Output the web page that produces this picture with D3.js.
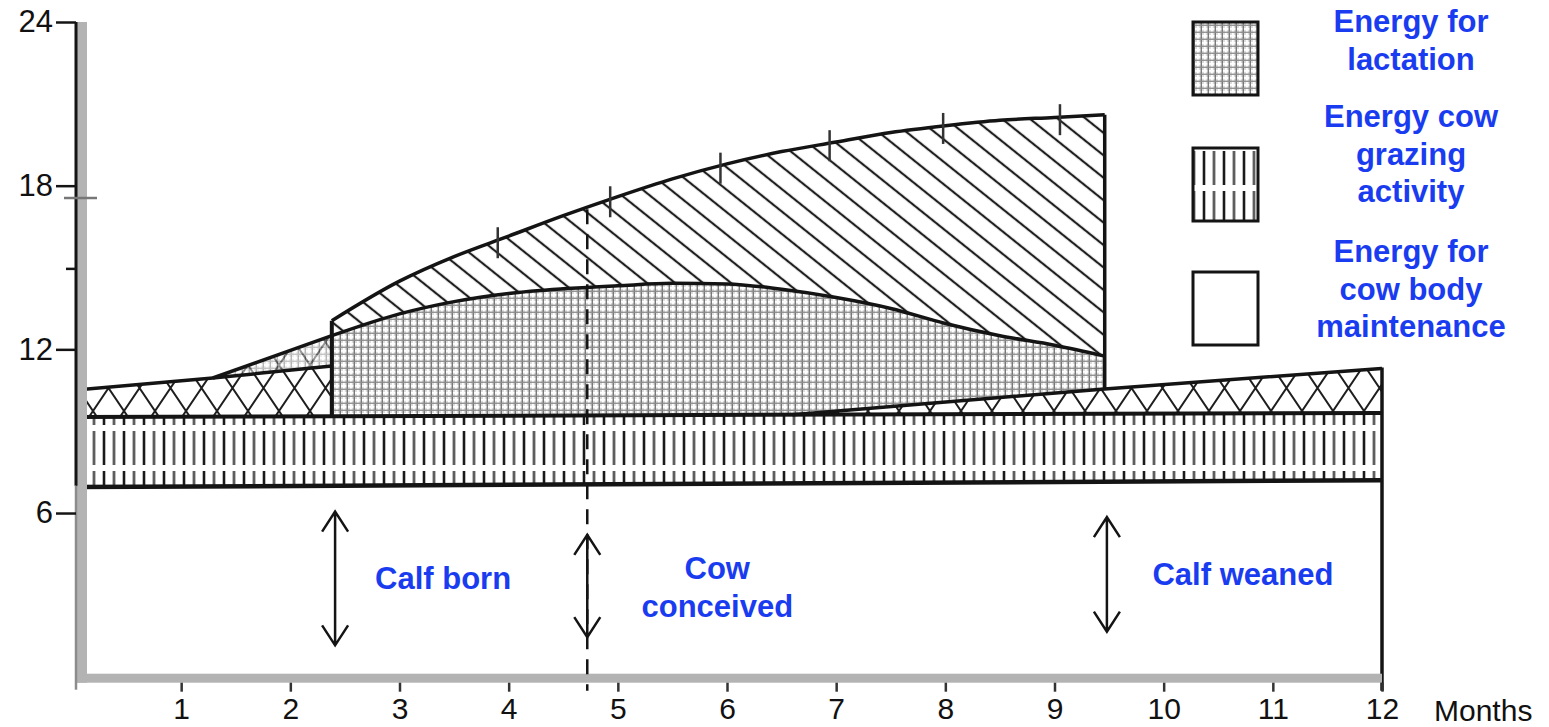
<!DOCTYPE html>
<html>
<head>
<meta charset="utf-8">
<script src="https://cdn.jsdelivr.net/npm/d3@7"></script>
<style>
  body { margin: 0; background: #fff; }
  svg { display: block; }
</style>
</head>
<body>
<svg id="chart" width="1549" height="727"></svg>
<script>
// values (x = months, y = energy units)
const maintMonths = [0, 12];
const maintTop = [6.95, 7.2];
const grazeMonths = [0, 12];
const grazeTop = [9.52, 9.67];
const pregLeftMonths = [0, 1.29, 2.38];
const pregLeftTop = [10.5, 10.95, 11.39];
const wedgeMonths = [1.29, 2.38];
const wedgeTop = [10.95, 12.5];
const lactMonths = [2.38, 3, 3.5, 4, 4.5, 5, 5.5, 6, 6.5, 7, 7.5, 8, 8.5, 9, 9.46];
const lactTop = [12.5, 13.3, 13.75, 14.05, 14.22, 14.33, 14.42, 14.4, 14.2, 13.9, 13.5, 12.95, 12.5, 12.15, 11.75];
const totalTop = [13.05, 14.5, 15.4, 16.15, 16.9, 17.6, 18.25, 18.8, 19.25, 19.6, 19.95, 20.2, 20.4, 20.5, 20.6];
const pregRightMonths = [6.6, 9.46, 12];
const pregRightTop = [9.6, 10.55, 11.3];
const curveTickMonths = [3.9, 4.93, 5.94, 6.94, 7.98, 9.05];

const xTicks = [1, 2, 3, 4, 5, 6, 7, 8, 9, 10, 11, 12];
const yTicks = [6, 12, 18, 24];
const yMinorTicks = [17.55, 14.95];

const eventNames = [["Calf born"], ["Cow", "conceived"], ["Calf weaned"]];
const eventMonths = [2.41, 4.72, 9.48];
const arrowLow = [1.15, 1.45, 1.65];
const arrowHigh = [6.05, 5.2, 5.85];

const legendNames = [["Energy for", "lactation"], ["Energy cow", "grazing", "activity"], ["Energy for", "cow body", "maintenance"]];
const legendFills = ["url(#pLact)", "url(#pGraze)", "#fff"];

// layout
const blue = "#1a3cf0";
const ink = "#141414";
const grey = "#b3b3b3";

const svg = d3.select("#chart");
const x = d3.scaleLinear().domain([0, 12]).range([72, 1382]);
const y = d3.scaleLinear().domain([0, 24]).range([676.7, 22]);
const x0 = x(0) + 4;

// patterns
const defs = svg.append("defs");

defs.append("clipPath").attr("id", "plotClip")
    .append("rect").attr("x", x0).attr("y", 0).attr("width", x(12) + 5 - x0).attr("height", y(0) + 20);

const pL = defs.append("pattern").attr("id", "pLact")
    .attr("patternUnits", "userSpaceOnUse").attr("width", 7).attr("height", 7);
pL.append("rect").attr("width", 7).attr("height", 7).attr("fill", "#dcdcdc");
pL.append("rect").attr("width", 7).attr("height", 1.8).attr("fill", "#fff");
pL.append("rect").attr("width", 1.8).attr("height", 7).attr("fill", "#fff");
pL.append("rect").attr("x", 3.6).attr("y", 0).attr("width", 1.3).attr("height", 7).attr("fill", "#6c6c6c");
pL.append("rect").attr("x", 0).attr("y", 3.6).attr("width", 7).attr("height", 1.3).attr("fill", "#8a8a8a");

const pG = defs.append("pattern").attr("id", "pGraze")
    .attr("patternUnits", "userSpaceOnUse").attr("width", 20).attr("height", 40)
    .attr("y", y(grazeTop[0]));
pG.append("rect").attr("width", 20).attr("height", 40).attr("fill", "#fff");
pG.append("path").attr("d", "M4,0V8M4,14V40").attr("stroke", "#1a1a1a").attr("stroke-width", 2.6);
pG.append("path").attr("d", "M14,0V8M14,14V40").attr("stroke", "#5e5e5e").attr("stroke-width", 2.8);

const pC = defs.append("pattern").attr("id", "pCross")
    .attr("patternUnits", "userSpaceOnUse").attr("width", 31).attr("height", 46)
    .attr("y", 365);
pC.append("rect").attr("width", 31).attr("height", 46).attr("fill", "#fff");
pC.append("path").attr("d", "M0,0L31,46M31,0L0,46").attr("stroke", "#1e1e1e").attr("stroke-width", 2);

const pD = defs.append("pattern").attr("id", "pDiag")
    .attr("patternUnits", "userSpaceOnUse").attr("width", 20).attr("height", 17.5)
    .attr("patternTransform", "rotate(38.7)");
pD.append("rect").attr("width", 20).attr("height", 17.5).attr("fill", "#fff");
pD.append("line").attr("x1", 0).attr("x2", 20).attr("y1", 8.75).attr("y2", 8.75)
    .attr("stroke", "#1e1e1e").attr("stroke-width", 2.2);

// helpers
const pts = (ms, vs) => ms.map((m, i) => [m, vs[i]]);
const lin = d3.line().x(d => x(d[0])).y(d => y(d[1]));
const smooth = d3.line().x(d => x(d[0])).y(d => y(d[1])).curve(d3.curveMonotoneX);
const areaFrom0 = (c) => d3.area().x(d => x(d[0])).y0(y(0)).y1(d => y(d[1])).curve(c);

const lactPts = pts(lactMonths, lactTop);
const totalPts = pts(lactMonths, totalTop);

const plot = svg.append("g").attr("clip-path", "url(#plotClip)");

// 1. top hatched band between lactation and total curves
const diag = d3.area()
    .x(d => x(d[0]))
    .y0((d, i) => y(lactTop[i]))
    .y1(d => y(d[1]))
    .curve(d3.curveMonotoneX);
plot.append("path").attr("d", diag(totalPts)).attr("fill", "url(#pDiag)");

// 2. lactation
plot.append("path").attr("d", areaFrom0(d3.curveMonotoneX)(lactPts)).attr("fill", "url(#pLact)");

// 3. edge at weaning
const last = lactMonths.length - 1;
plot.append("line")
    .attr("x1", x(lactMonths[last])).attr("x2", x(lactMonths[last]))
    .attr("y1", y(0)).attr("y2", y(totalTop[last]))
    .attr("stroke", ink).attr("stroke-width", 3.5);

// 4-6. cross hatched bands
plot.append("path").attr("d", areaFrom0(d3.curveMonotoneX)(pts(pregRightMonths, pregRightTop))).attr("fill", "url(#pCross)");
plot.append("path").attr("d", areaFrom0(d3.curveLinear)(pts(wedgeMonths, wedgeTop))).attr("fill", "url(#pCross)");
plot.append("path").attr("d", areaFrom0(d3.curveLinear)(pts(wedgeMonths, wedgeTop))).attr("fill", "url(#pLact)").attr("opacity", 0.55);
plot.append("path").attr("d", areaFrom0(d3.curveLinear)(pts(pregLeftMonths, pregLeftTop))).attr("fill", "url(#pCross)");

// 7. edge at calving
plot.append("line")
    .attr("x1", x(lactMonths[0])).attr("x2", x(lactMonths[0]))
    .attr("y1", y(0)).attr("y2", y(totalTop[0]))
    .attr("stroke", ink).attr("stroke-width", 4);

// 8. grazing and maintenance
plot.append("path").attr("d", areaFrom0(d3.curveLinear)(pts(grazeMonths, grazeTop))).attr("fill", "url(#pGraze)");
plot.append("path").attr("d", areaFrom0(d3.curveLinear)(pts(maintMonths, maintTop))).attr("fill", "#fff");

// 9. outlines
const outline = (d, w) => plot.append("path").attr("d", d).attr("fill", "none")
    .attr("stroke", ink).attr("stroke-width", w).attr("stroke-linejoin", "round");
outline(lin(pts(grazeMonths, grazeTop)), 4);
outline(lin(pts(maintMonths, maintTop)), 4.5);
outline(lin(pts(pregLeftMonths, pregLeftTop)), 3.5);
outline(lin(pts(wedgeMonths, wedgeTop)), 3.5);
outline(smooth(lactPts), 3.5);
outline(smooth(totalPts), 3.5);
outline(smooth(pts(pregRightMonths, pregRightTop)), 3.5);
svg.append("line")
    .attr("x1", x(12)).attr("x2", x(12))
    .attr("y1", y(0) + 14).attr("y2", y(pregRightTop[pregRightTop.length - 1]) - 1)
    .attr("stroke", ink).attr("stroke-width", 3.5);

// small marks across the total curve
const totalAt = d3.scaleLinear().domain(lactMonths).range(totalTop);
svg.append("g").selectAll("line").data(curveTickMonths).join("line")
    .attr("x1", d => x(d)).attr("x2", d => x(d))
    .attr("y1", d => y(totalAt(d)) - 13).attr("y2", d => y(totalAt(d)) + 18)
    .attr("stroke", "#333").attr("stroke-width", 2.5);

// 10. grey frame bands and axes
svg.append("rect").attr("x", x0 + 1).attr("y", y(24)).attr("width", 10).attr("height", y(0) + 6 - y(24)).attr("fill", grey);
svg.append("rect").attr("x", x0 + 1).attr("y", y(0) - 3).attr("width", x(12) - x0 - 1).attr("height", 9).attr("fill", grey);
svg.append("line").attr("x1", x0).attr("x2", x0).attr("y1", y(24)).attr("y2", y(7))
    .attr("stroke", ink).attr("stroke-width", 3);
svg.append("line").attr("x1", x0).attr("x2", x0).attr("y1", y(7)).attr("y2", y(0) + 13)
    .attr("stroke", "#8c8c8c").attr("stroke-width", 2.5);

const yAxis = svg.append("g").attr("transform", `translate(${x0},0)`)
    .call(d3.axisLeft(y).tickValues(yTicks).tickSize(20).tickPadding(3));
yAxis.select(".domain").remove();
yAxis.selectAll("line").attr("stroke", ink).attr("stroke-width", 2.5);
yAxis.selectAll("text").attr("fill", "#111").style("font", "31px 'Liberation Sans', Arial, sans-serif");

svg.append("g").selectAll("line").data(yMinorTicks).join("line")
    .attr("x1", (d, i) => i === 0 ? x0 - 12 : x0 - 10)
    .attr("x2", (d, i) => i === 0 ? x0 + 21 : x0)
    .attr("y1", d => y(d)).attr("y2", d => y(d))
    .attr("stroke", (d, i) => i === 0 ? "#777" : ink).attr("stroke-width", 2.5);

const xAxis = svg.append("g").attr("transform", `translate(0,${y(0) + 6})`)
    .call(d3.axisBottom(x).tickValues(xTicks).tickSize(9).tickPadding(6));
xAxis.select(".domain").remove();
xAxis.selectAll("line").attr("stroke", "#333").attr("stroke-width", 2.5);
xAxis.selectAll("text").attr("fill", "#111").style("font", "30px 'Liberation Sans', Arial, sans-serif");

svg.append("text").attr("x", x(12) + 52).attr("y", y(0) + 44)
    .attr("fill", "#111").style("font", "30px 'Liberation Sans', Arial, sans-serif")
    .text("Months");

// 11. conception line, event arrows and labels
const conceived = eventMonths[1];
svg.append("line")
    .attr("x1", x(conceived)).attr("x2", x(conceived))
    .attr("y1", y(totalAt(conceived)) + 2).attr("y2", y(0) + 14)
    .attr("stroke", ink).attr("stroke-width", 2.5).attr("stroke-dasharray", "15,10");

const labelFont = "bold 31px 'Liberation Sans', Arial, sans-serif";
const labelShift = [[108, [0]], [130, [-18, 20]], [136, [0]]];
eventMonths.forEach((m, i) => {
    const ax = x(m), top = y(arrowHigh[i]), bot = y(arrowLow[i]);
    svg.append("path")
        .attr("d", `M${ax},${top}V${bot}M${ax - 13},${top + 20}L${ax},${top}L${ax + 13},${top + 20}M${ax - 13},${bot - 20}L${ax},${bot}L${ax + 13},${bot - 20}`)
        .attr("fill", "none").attr("stroke", ink).attr("stroke-width", 2.5);
    const midY = y((arrowHigh[i] + arrowLow[i]) / 2);
    eventNames[i].forEach((t, j) => {
        svg.append("text")
            .attr("x", ax + labelShift[i][0]).attr("y", midY + labelShift[i][1][j] + 11)
            .attr("text-anchor", "middle").attr("fill", blue).style("font", labelFont)
            .text(t);
    });
});

// legend
const legendBoxY = [22, 148, 272];
const legendTextY = [32, 127, 262];
legendNames.forEach((lines, i) => {
    svg.append("rect").attr("x", 1193).attr("y", legendBoxY[i]).attr("width", 65).attr("height", 73)
        .attr("fill", legendFills[i]).attr("stroke", ink).attr("stroke-width", 3);
    lines.forEach((t, j) => {
        svg.append("text").attr("x", 1411).attr("y", legendTextY[i] + j * 37.5)
            .attr("text-anchor", "middle").attr("fill", blue).style("font", labelFont)
            .text(t);
    });
});
</script>
</body>
</html>
